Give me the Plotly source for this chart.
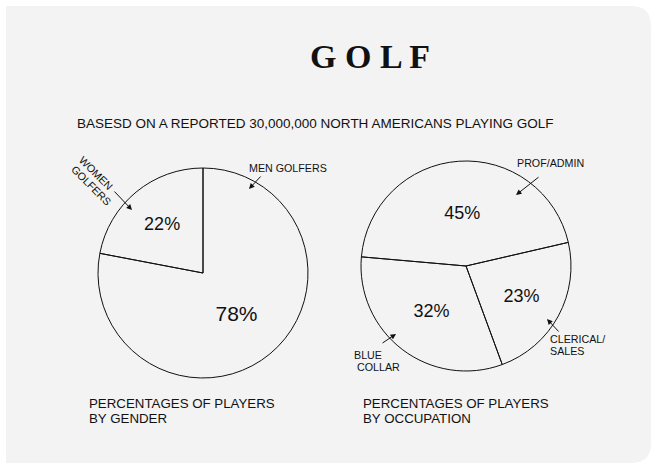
import plotly.graph_objects as go

W, H = 656, 465

# ---- data ----
gender_labels = ["MEN GOLFERS", "WOMEN GOLFERS"]
gender_values = [78, 22]
occupation_labels = ["PROF/ADMIN", "CLERICAL/SALES", "BLUE COLLAR"]
occupation_values = [45, 23, 32]

title_text = "G O L F"
subtitle_text = "BASESD ON A REPORTED 30,000,000 NORTH AMERICANS PLAYING GOLF"
caption_left = ["PERCENTAGES OF PLAYERS", "BY GENDER"]
caption_right = ["PERCENTAGES OF PLAYERS", "BY OCCUPATION"]

FONT = "Liberation Sans, Arial, sans-serif"


def px(x):
    return x / W


def py(y):
    return 1 - y / H


def dom(cx, cy, r):
    return dict(x=[px(cx - r), px(cx + r)], y=[py(cy + r), py(cy - r)])


R = 105
fig = go.Figure()
fig.add_trace(go.Pie(
    labels=gender_labels, values=gender_values, sort=False,
    direction="clockwise", rotation=0,
    domain=dom(203, 273, R),
    marker=dict(colors=["rgba(255,255,255,0)"] * 2, line=dict(color="#111111", width=1)),
    textinfo="percent", textposition="inside", insidetextorientation="horizontal",
    textfont=dict(family=FONT, size=[21, 18], color="#111111"),
    hoverinfo="label+percent", showlegend=False,
))
fig.add_trace(go.Pie(
    labels=occupation_labels, values=occupation_values, sort=False,
    direction="clockwise", rotation=-85,
    domain=dom(466, 266, R),
    marker=dict(colors=["rgba(255,255,255,0)"] * 3, line=dict(color="#111111", width=1)),
    textinfo="percent", textposition="inside", insidetextorientation="horizontal",
    textfont=dict(family=FONT, size=18, color="#111111"),
    hoverinfo="label+percent", showlegend=False,
))

ann = []


def text(t, x, y, size, xanchor="center", angle=0, family=FONT, color="#111111"):
    ann.append(dict(text=t, x=px(x), y=py(y), xref="paper", yref="paper",
                    xanchor=xanchor, yanchor="middle", showarrow=False,
                    textangle=angle, font=dict(family=family, size=size, color=color)))


def arrow(x0, y0, x1, y1):
    ann.append(dict(text="", x=px(x1), y=py(y1), xref="paper", yref="paper",
                    ax=x0 - x1, ay=y0 - y1, axref="pixel", ayref="pixel",
                    showarrow=True, arrowhead=2, arrowsize=1.1, arrowwidth=1,
                    arrowcolor="#111111"))


text("<b>" + title_text + "</b>", 370, 56, 34, family="Liberation Serif, Times New Roman, serif")
text(subtitle_text, 315, 124, 13.5)

text(caption_left[0], 87, 403, 13.3, xanchor="left")
text(caption_left[1], 87, 418, 13.3, xanchor="left")
text(caption_right[0], 361, 403, 13.3, xanchor="left")
text(caption_right[1], 361, 418, 13.3, xanchor="left")

# slice callouts
text("MEN GOLFERS", 288, 168.5, 10.7)
arrow(262, 175, 249, 189)
text("WOMEN", 96, 173, 10.7, angle=45)
text("GOLFERS", 91, 185, 10.7, angle=45)
arrow(113, 190, 132, 210)
text("PROF/ADMIN", 550, 163.5, 10.7)
arrow(540, 176, 516, 195)
text("BLUE", 352, 355, 10.7, xanchor="left")
text("COLLAR", 355, 366.5, 10.7, xanchor="left")
arrow(381, 344, 396, 334)
text("CLERICAL/", 548, 339, 10.7, xanchor="left")
text("SALES", 548, 351, 10.7, xanchor="left")
arrow(560, 333, 547, 319)

# background panel with rounded right corners
path = "M {:.5f},{:.5f} L {:.5f},{:.5f} Q {:.5f},{:.5f} {:.5f},{:.5f} L {:.5f},{:.5f} Q {:.5f},{:.5f} {:.5f},{:.5f} L {:.5f},{:.5f} Z".format(
    px(6), py(6), px(631), py(6), px(651), py(6), px(651), py(26),
    px(651), py(443), px(651), py(463), px(631), py(463), px(6), py(463))

fig.update_layout(
    width=W, height=H,
    margin=dict(l=0, r=0, t=0, b=0),
    paper_bgcolor="white", plot_bgcolor="white",
    showlegend=False,
    annotations=ann,
    shapes=[dict(type="path", path=path, xref="paper", yref="paper",
                 fillcolor="#f3f3f3", line=dict(width=0), layer="below")],
)

fig.write_html("out.html")
